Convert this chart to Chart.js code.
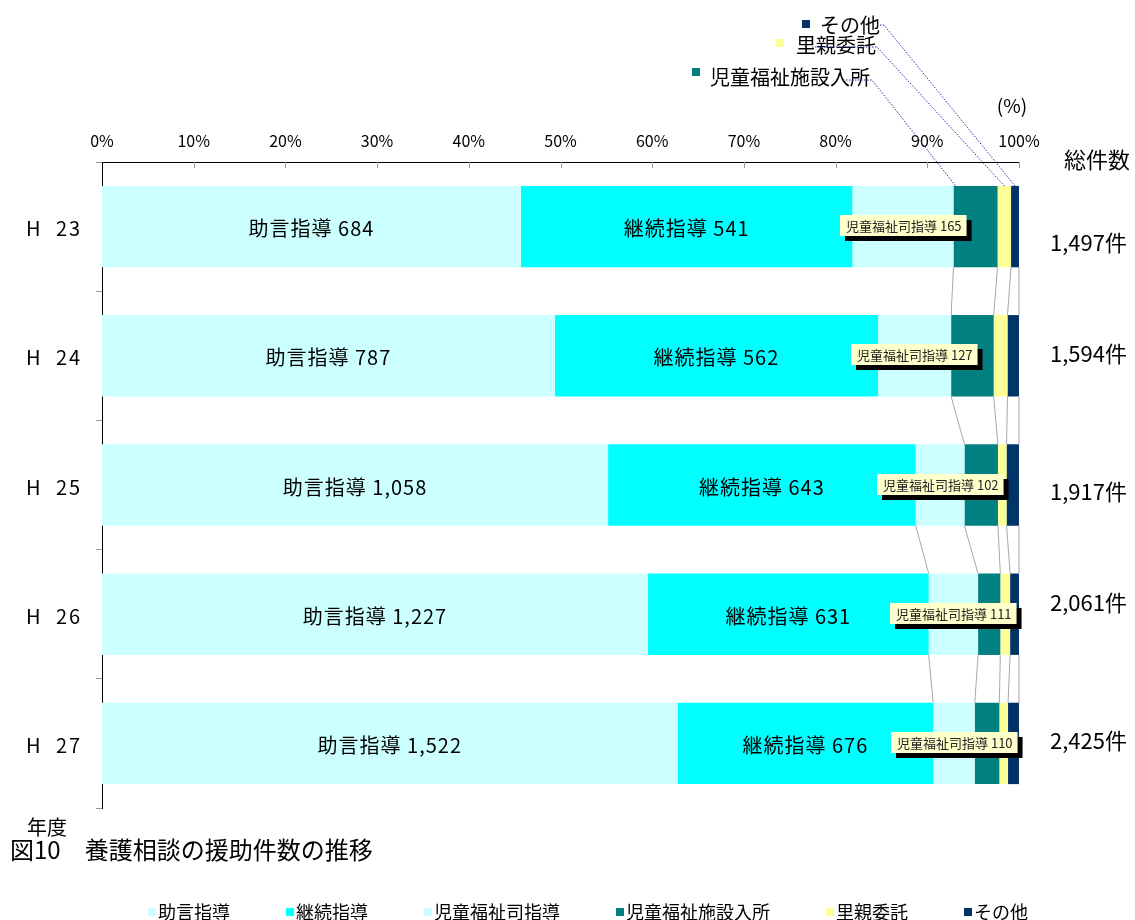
<!DOCTYPE html>
<html lang="ja">
<head>
<meta charset="utf-8">
<script src="https://cdn.jsdelivr.net/npm/chart.js@4.4.1/dist/chart.umd.min.js"></script>
<style>
  html, body { margin: 0; padding: 0; background: #fff; overflow: hidden; }
  #wrap { position: relative; width: 1135px; height: 920px; }
</style>
</head>
<body>
<div id="wrap"><canvas id="chart"></canvas></div>
<script>
// 年度
const years = ['H 23', 'H 24', 'H 25', 'H 26', 'H 27'];
const seriesNames = ['助言指導', '継続指導', '児童福祉司指導', '児童福祉施設入所', '里親委託', 'その他'];

// 件数 (small ones estimated)
const advice = [684, 787, 1058, 1227, 1522];
const continued = [541, 562, 643, 631, 676];
const welfareOfficer = [165, 127, 102, 111, 110];
const facility = [72, 74, 70, 50, 65];
const foster = [22, 24, 18, 22, 23];
const other = [13, 20, 26, 20, 29];

const seriesColors = ['#ccffff', '#00ffff', '#ccffff', '#008080', '#ffff99', '#003366'];

const FONT = '"Noto Sans CJK JP", "Noto Sans", sans-serif';
Chart.defaults.font.family = FONT;

const allSeries = [advice, continued, welfareOfficer, facility, foster, other];
const totals = years.map((y, i) => allSeries.reduce((sum, arr) => sum + arr[i], 0));

// label tweaks
const totalDy = [16, -2, 7, -12, -3];
const seriesLineFrom = [2, 2, 1, 1];

function fmt(n) {
  return n.toLocaleString('en-US');
}

const annotations = {
  id: 'annotations',
  afterDatasetsDraw(chart) {
    const ctx = chart.ctx;
    const area = chart.chartArea;
    const xs = chart.scales.x;
    const ys = chart.scales.y;
    const metas = chart.data.datasets.map((d, i) => chart.getDatasetMeta(i));
    ctx.save();

    // tick marks inside the top axis
    ctx.strokeStyle = '#999';
    ctx.lineWidth = 1;
    for (let v = 10; v <= 100; v += 10) {
      const x = Math.round(xs.getPixelForValue(v)) + 0.5;
      ctx.beginPath();
      ctx.moveTo(x, area.top);
      ctx.lineTo(x, area.top + 6);
      ctx.stroke();
    }

    // series lines between bars
    ctx.strokeStyle = '#a8a8a8';
    for (let i = 0; i < years.length - 1; i++) {
      for (let s = seriesLineFrom[i]; s < metas.length; s++) {
        const a = metas[s].data[i];
        const b = metas[s].data[i + 1];
        ctx.beginPath();
        ctx.moveTo(a.x, a.y + a.height / 2);
        ctx.lineTo(b.x, b.y - b.height / 2);
        ctx.stroke();
      }
    }

    // category labels (wide spaced like the original)
    ctx.fillStyle = '#000';
    ctx.textBaseline = 'middle';
    ctx.font = '20px ' + FONT;
    years.forEach((label, i) => {
      const parts = label.split(' ');
      const y = ys.getPixelForValue(i) + 2;
      ctx.letterSpacing = '0px';
      ctx.textAlign = 'left';
      ctx.fillText(parts[0], 26, y);
      ctx.letterSpacing = '2px';
      ctx.fillText(parts[1], 56, y);
    });
    ctx.letterSpacing = '0px';

    // labels inside the big segments
    ctx.textAlign = 'center';
    ctx.font = '20px ' + FONT;
    ctx.letterSpacing = '1px';
    [0, 1].forEach((s) => {
      metas[s].data.forEach((el, i) => {
        const cx = (el.x + el.base) / 2;
        ctx.fillText(seriesNames[s] + ' ' + fmt(allSeries[s][i]), cx, el.y + 2);
      });
    });
    ctx.letterSpacing = '0px';

    // 児童福祉司指導 callouts
    ctx.font = '13px ' + FONT;
    metas[2].data.forEach((el, i) => {
      const text = seriesNames[2] + ' ' + fmt(allSeries[2][i]);
      const w = ctx.measureText(text).width + 11;
      const h = 21;
      const cx = (el.x + el.base) / 2;
      const left = Math.round(cx - w / 2);
      const top = Math.round(el.y - h / 2 - 1);
      ctx.fillStyle = '#000';
      ctx.fillRect(left + 5, top + 5, w, h);
      ctx.fillStyle = '#ffffcc';
      ctx.fillRect(left, top, w, h);
      ctx.fillStyle = '#222';
      ctx.textAlign = 'left';
      ctx.fillText(text, left + 6, top + h / 2 + 1);
    });

    // totals on the right
    ctx.fillStyle = '#000';
    ctx.textAlign = 'left';
    ctx.font = '22px ' + FONT;
    metas[0].data.forEach((el, i) => {
      ctx.fillText(fmt(totals[i]) + '件', area.right + 31, el.y + totalDy[i]);
    });

    // labels with dotted leaders for the thin segments of the first bar
    const leaders = [
      { s: 5, sq: [802, 20], tx: 820, ty: 25, hx0: 877, hy: 25, hx1: 884, frac: 0.5 },
      { s: 4, sq: [776, 39], tx: 796, ty: 45, hx0: 812, hy: 47, hx1: 877, frac: 0.5 },
      { s: 3, sq: [692, 68], tx: 710, ty: 77, hx0: 843, hy: 80, hx1: 872, frac: 0.05 }
    ];
    leaders.forEach((l) => {
      const el = metas[l.s].data[0];
      const ax = el.base + (el.x - el.base) * l.frac;
      const ay = el.y - el.height / 2;
      ctx.fillStyle = seriesColors[l.s];
      ctx.fillRect(l.sq[0], l.sq[1], 8, 8);
      ctx.fillStyle = '#000';
      ctx.font = '20px ' + FONT;
      ctx.fillText(seriesNames[l.s], l.tx, l.ty);
      ctx.strokeStyle = '#2233aa';
      ctx.setLineDash([1.5, 1.5]);
      ctx.beginPath();
      ctx.moveTo(l.hx0, l.hy);
      ctx.lineTo(l.hx1, l.hy);
      ctx.lineTo(ax, ay);
      ctx.stroke();
      ctx.setLineDash([]);
    });

    // loose texts
    ctx.fillStyle = '#000';
    ctx.font = '19px ' + FONT;
    ctx.textAlign = 'center';
    ctx.fillText('(%)', area.right - 7, 106);
    ctx.font = '22px ' + FONT;
    ctx.fillText('総件数', 1097, 160);
    ctx.font = '20px ' + FONT;
    ctx.fillText('年度', 47, 827);
    ctx.textAlign = 'left';
    ctx.font = '24px ' + FONT;
    ctx.fillText('図10　養護相談の援助件数の推移', 10, 850);

    // legend at the bottom
    ctx.font = '18px ' + FONT;
    let lx = 148;
    seriesNames.forEach((name, s) => {
      ctx.fillStyle = seriesColors[s];
      ctx.fillRect(lx, 908, 8, 8);
      ctx.fillStyle = '#000';
      ctx.fillText(name, lx + 10, 912);
      lx += 10 + ctx.measureText(name).width + 56;
    });

    ctx.restore();
  }
};

new Chart(document.getElementById('chart'), {
  type: 'bar',
  data: {
    labels: years,
    datasets: seriesNames.map((name, s) => ({
      label: name,
      data: allSeries[s].map((v, i) => v / totals[i] * 100),
      backgroundColor: seriesColors[s],
      borderWidth: 0,
      categoryPercentage: 1,
      barPercentage: 0.63
    }))
  },
  options: {
    indexAxis: 'y',
    responsive: true,
    maintainAspectRatio: false,
    animation: false,
    layout: { padding: { top: 0, right: 116, bottom: 112, left: 0 } },
    plugins: {
      legend: { display: false },
      tooltip: { enabled: false }
    },
    scales: {
      x: {
        position: 'top',
        stacked: true,
        min: 0,
        max: 100,
        ticks: {
          stepSize: 10,
          maxRotation: 0,
          padding: 11,
          color: '#000',
          font: { size: 16 },
          callback: (v) => v + '%'
        },
        grid: { display: false, drawTicks: false },
        border: { display: true, color: '#000', width: 1 },
        afterFit: (scale) => { scale.height = 162; }
      },
      y: {
        stacked: true,
        ticks: { display: false },
        grid: { drawOnChartArea: false, tickLength: 6, color: '#999', offset: true },
        border: { display: true, color: '#000', width: 1 },
        afterFit: (scale) => { scale.width = 102; }
      }
    }
  },
  plugins: [annotations]
});
</script>
</body>
</html>
